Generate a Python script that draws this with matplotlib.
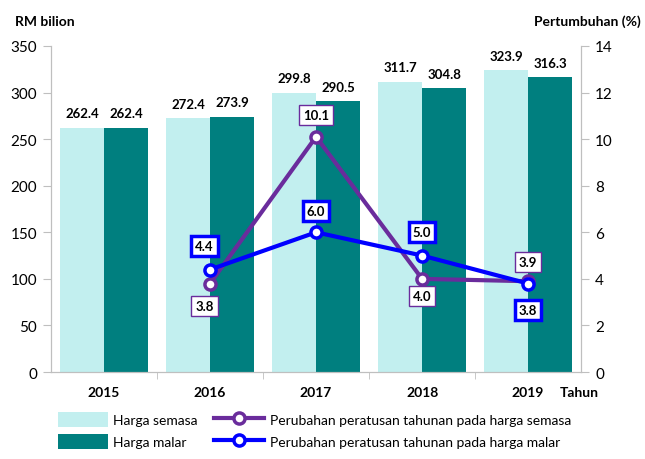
import numpy as np
import matplotlib
matplotlib.use("Agg")
import matplotlib.pyplot as plt

plt.rcParams['font.family'] = ['Lato', 'DejaVu Sans']

# data
years = ['2015', '2016', '2017', '2018', '2019']
harga_semasa = [262.4, 272.4, 299.8, 311.7, 323.9]
harga_malar = [262.4, 273.9, 290.5, 304.8, 316.3]
growth_years = ['2016', '2017', '2018', '2019']
growth_semasa = [3.8, 10.1, 4.0, 3.9]
growth_malar = [4.4, 6.0, 5.0, 3.8]

c_light = '#C2EFEF'
c_dark = '#007F7F'
c_purple = '#6A2C9C'
c_blue = '#0000FF'
c_axis = '#BFBFBF'

x = np.arange(len(years))
gx = np.array([years.index(y) for y in growth_years])
w = 0.415

fig = plt.figure(figsize=(6.45, 4.6), dpi=100)
ax = fig.add_axes([0.079, 0.189, 0.822, 0.709])
ax2 = ax.twinx()

b1 = ax.bar(x - w / 2, harga_semasa, w, color=c_light, label='Harga semasa')
b2 = ax.bar(x + w / 2, harga_malar, w, color=c_dark, label='Harga malar')
for rect, v in list(zip(b1, harga_semasa)) + list(zip(b2, harga_malar)):
    ax.annotate(f'{v:.1f}', (rect.get_x() + rect.get_width() / 2, v),
                xytext=(0, 6), textcoords='offset points',
                ha='center', va='bottom', fontsize=9.5, fontweight='bold')

ax.set_xlim(-0.5, len(years) - 0.5)
ax.set_ylim(0, 350)
ax.set_yticks(np.arange(0, 351, 50))
ax.set_xticks(x)
ax.set_xticklabels(years, fontweight='bold', fontsize=10)
ax.set_xticks(np.arange(0.5, len(years) - 1, 1), minor=True)
ax.tick_params(axis='x', which='major', length=0, pad=10)
ax.tick_params(axis='x', which='minor', length=5, color=c_axis)
ax.tick_params(axis='y', labelsize=11, length=6, color=c_axis, pad=4)

ax2.set_ylim(0, 14)
ax2.set_yticks(np.arange(0, 15, 2))
ax2.tick_params(axis='y', labelsize=11, length=6, color=c_axis, pad=4)

for a in (ax, ax2):
    a.spines['top'].set_visible(False)
    for s in ('left', 'right', 'bottom'):
        a.spines[s].set_color(c_axis)

l1, = ax2.plot(gx, growth_semasa, color=c_purple, lw=3, marker='o', ms=8,
               mfc='white', mec=c_purple, mew=2.5,
               label='Perubahan peratusan tahunan pada harga semasa')
l2, = ax2.plot(gx, growth_malar, color=c_blue, lw=3, marker='o', ms=8,
               mfc='white', mec=c_blue, mew=2.5,
               label='Perubahan peratusan tahunan pada harga malar')

off_semasa = [(-4, -16), (0, 16), (0, -12), (0, 14)]
off_malar = [(-4, 17), (0, 15), (0, 17), (0, -19)]
for xi, v, o in zip(gx, growth_semasa, off_semasa):
    ax2.annotate(f'{v:.1f}', (xi, v), xytext=o, textcoords='offset points',
                 ha='center', va='center', fontsize=9.5, fontweight='bold',
                 bbox=dict(boxstyle='square,pad=0.3', fc='white', ec=c_purple, lw=1))
for xi, v, o in zip(gx, growth_malar, off_malar):
    ax2.annotate(f'{v:.1f}', (xi, v), xytext=o, textcoords='offset points',
                 ha='center', va='center', fontsize=9.5, fontweight='bold',
                 bbox=dict(boxstyle='square,pad=0.3', fc='white', ec=c_blue, lw=2.5))

fig.text(0.023, 0.952, 'RM bilion', fontsize=10, fontweight='bold', va='center')
fig.text(0.994, 0.952, 'Pertumbuhan (%)', fontsize=10, fontweight='bold',
         va='center', ha='right')
fig.text(0.868, 0.145, 'Tahun', fontsize=10, fontweight='bold', va='center')

fig.legend([b1, b2, l1, l2],
           ['Harga semasa', 'Harga malar',
            'Perubahan peratusan tahunan pada harga semasa',
            'Perubahan peratusan tahunan pada harga malar'],
           ncol=2, frameon=False, loc='lower left',
           bbox_to_anchor=(0.07, -0.005), fontsize=10,
           handlelength=3.6, handleheight=1.3, columnspacing=1.2,
           labelspacing=0.5, handletextpad=0.4)

fig.savefig('out.png', dpi=100)
